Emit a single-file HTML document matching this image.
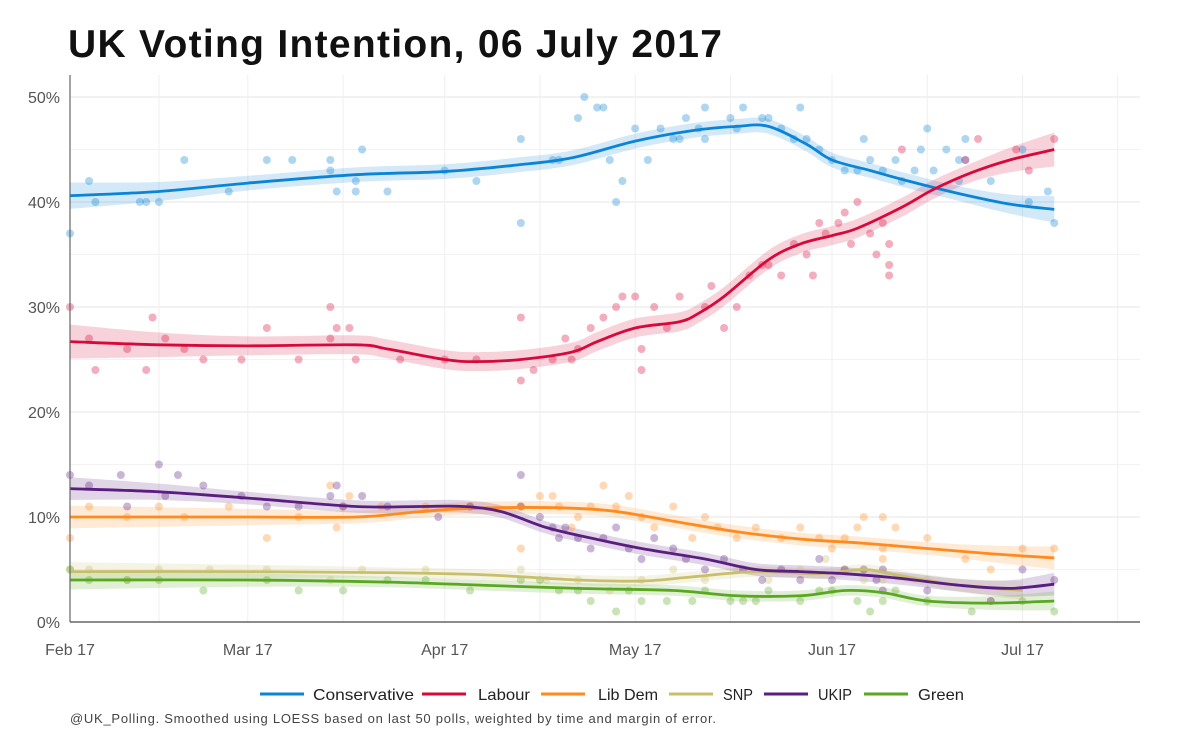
<!DOCTYPE html>
<html><head><meta charset="utf-8"><style>
body{margin:0;background:#fff;font-family:"Liberation Sans",sans-serif;}
svg{display:block}
</style></head><body>
<svg id="chart" width="1200" height="742">
<text x="68" y="57" font-size="39" font-weight="bold" fill="#111" textLength="654">UK Voting Intention, 06 July 2017</text>
<g id="grid"></g><g id="bands"></g><g id="points"></g><g id="lines"></g><g id="axes"></g><g id="legend"></g>
<text x="70" y="723" font-size="13" fill="#444" textLength="646">@UK_Polling. Smoothed using LOESS based on last 50 polls, weighted by time and margin of error.</text>
</svg>
<script>
const parties=["Conservative","Labour","Lib Dem","SNP","UKIP","Green"];
const colors=["#0a84d6","#d8083a","#ff8a1e","#c8bf6c","#5b1e80","#5aa820"];
const monthLabels=["Feb 17","Mar 17","Apr 17","May 17","Jun 17","Jul 17"];
const monthDays=[0,28,59,89,120,150];
const yTicks=[0,10,20,30,40,50];
const conLine=[[0,40.6],[14,41],[28,41.8],[45,42.6],[59,42.9],[70,43.5],[79,44.2],[89,45.8],[98,46.8],[105,47.2],[110,47.2],[116,45.5],[120,44],[126,43],[132,42],[140,40.8],[148,39.8],[155,39.3]];
const labLine=[[0,26.7],[14,26.4],[28,26.3],[45,26.4],[50,26],[59,25],[64,24.8],[71,25],[79,25.7],[83,26.7],[89,28],[96,28.6],[99,29.4],[103,31],[110,34.5],[115,36],[120,36.8],[124,37.5],[131,39.5],[136,41.2],[142,42.8],[148,44],[155,45]];
const ldLine=[[0,10],[28,10],[45,10],[55,10.5],[62,10.8],[75,10.9],[85,10.6],[95,9.6],[105,8.6],[115,7.9],[125,7.5],[135,7],[145,6.5],[155,6.1]];
const snpLine=[[0,4.8],[28,4.8],[50,4.7],[65,4.5],[80,4],[90,3.9],[98,4.3],[108,4.8],[118,4.6],[125,5],[130,4.5],[140,3.5],[150,3]];
const ukipLine=[[0,12.7],[14,12.4],[28,11.8],[45,11],[55,11],[62,11],[68,10.5],[75,9],[82,8],[90,7],[100,6],[108,5],[115,4.8],[122,4.6],[130,4.2],[140,3.5],[148,3.2],[155,3.6]];
const grnLine=[[0,4],[28,4],[50,3.8],[65,3.5],[80,3.2],[95,3],[105,2.5],[115,2.5],[122,3],[128,2.8],[135,2],[145,1.8],[155,2]];
const bandHalf=[0.7,0.9,0.6,0.5,0.6,0.5];
const conPts=[[0,37],[3,42],[4,40],[11,40],[12,40],[14,40],[18,44],[25,41],[31,44],[35,44],[41,44],[41,43],[42,41],[45,41],[45,42],[46,45],[50,41],[59,43],[64,42],[71,46],[71,38],[76,44],[77,44],[80,48],[81,50],[83,49],[84,49],[85,44],[86,40],[87,42],[89,47],[91,44],[93,47],[95,46],[96,46],[97,48],[99,47],[100,46],[100,49],[104,48],[105,47],[106,49],[109,48],[110,48],[112,47],[114,46],[115,49],[116,46],[118,45],[120,44],[122,43],[124,43],[125,46],[126,44],[128,43],[130,44],[131,42],[133,43],[134,45],[135,47],[136,43],[138,45],[140,42],[140,44],[141,44],[141,46],[145,42],[150,45],[151,40],[154,41],[155,38]];
const labPts=[[0,30],[3,27],[4,24],[9,26],[12,24],[13,29],[15,27],[18,26],[21,25],[27,25],[31,28],[36,25],[41,27],[41,30],[42,28],[44,28],[45,25],[52,25],[59,25],[64,25],[71,29],[71,23],[73,24],[76,25],[78,27],[79,25],[80,26],[82,28],[84,29],[86,30],[87,31],[89,31],[90,26],[90,24],[92,30],[94,28],[96,31],[100,30],[101,32],[103,28],[105,30],[107,33],[109,34],[110,34],[112,33],[114,36],[116,35],[117,33],[118,38],[119,37],[121,38],[122,39],[123,36],[124,40],[126,37],[127,35],[128,38],[129,36],[129,34],[129,33],[131,45],[141,44],[143,46],[149,45],[151,43],[155,46]];
const ldPts=[[0,8],[3,11],[9,10],[14,11],[18,10],[25,11],[31,8],[36,10],[41,13],[42,9],[43,11],[44,12],[49,11],[56,11],[63,11],[71,7],[71,11],[74,12],[76,12],[77,11],[79,9],[80,10],[82,11],[84,13],[86,11],[88,12],[90,10],[92,9],[95,11],[98,8],[100,10],[102,9],[105,8],[108,9],[112,8],[115,9],[118,8],[120,7],[122,8],[124,9],[125,10],[128,10],[128,7],[128,6],[130,9],[135,8],[141,6],[145,5],[150,7],[155,7]];
const snpPts=[[0,5],[3,5],[9,4],[14,5],[22,5],[31,5],[41,4],[46,5],[56,5],[71,5],[75,4],[80,4],[85,3],[90,4],[95,5],[100,4],[105,5],[110,4],[115,5],[119,6],[122,5],[125,4],[128,4],[135,4],[145,2]];
const ukipPts=[[0,14],[3,13],[8,14],[9,11],[14,15],[15,12],[17,14],[21,13],[27,12],[31,11],[36,11],[41,12],[42,13],[43,11],[46,12],[50,11],[58,10],[63,11],[71,14],[71,11],[74,10],[76,9],[77,8],[78,9],[80,8],[82,7],[84,8],[86,9],[88,7],[90,6],[92,8],[95,7],[97,6],[100,5],[103,6],[106,5],[109,4],[112,5],[115,4],[118,6],[120,4],[122,5],[125,5],[127,4],[128,3],[128,5],[135,3],[145,2],[150,5],[155,4]];
const grnPts=[[0,5],[3,4],[9,4],[14,4],[21,3],[31,4],[36,3],[43,3],[50,4],[56,4],[63,3],[71,4],[74,4],[77,3],[80,3],[82,2],[86,1],[88,3],[90,2],[94,2],[98,2],[100,3],[104,2],[106,2],[108,2],[110,3],[115,2],[118,3],[120,3],[124,2],[126,1],[128,2],[130,3],[135,2],[142,1],[150,2],[155,1]];

const lines=[conLine,labLine,ldLine,snpLine,ukipLine,grnLine];
const pts=[conPts,labPts,ldPts,snpPts,ukipPts,grnPts];
const X0=70,X1=1140,Y0=622,PXD=6.35,PXP=10.5;
const xs=d=>X0+d*PXD, ys=v=>Y0-v*PXP;
const NS="http://www.w3.org/2000/svg";
function mk(tag,attrs,parent){const e=document.createElementNS(NS,tag);for(const k in attrs)e.setAttribute(k,attrs[k]);parent.appendChild(e);return e;}
function smooth(p){let d=`M${p[0][0]},${p[0][1]}`;for(let i=0;i<p.length-1;i++){const a=p[i-1]||p[i],b=p[i],c=p[i+1],e=p[i+2]||c;
d+=` C${b[0]+(c[0]-a[0])/6},${b[1]+(c[1]-a[1])/6} ${c[0]-(e[0]-b[0])/6},${c[1]-(e[1]-b[1])/6} ${c[0]},${c[1]}`;}return d;}
const grid=document.getElementById('grid');
for(let v=5;v<=50;v+=5){const l=mk('line',{x1:X0,x2:X1,y1:ys(v),y2:ys(v),stroke:v%10?'#f2f2f2':'#e6e6e6','stroke-width':1},grid);
}
const vdays=[14,28,43,59,74,89,104,120,135,150,165];
vdays.forEach(d=>{const l=mk('line',{x1:xs(d),x2:xs(d),y1:75,y2:Y0,stroke:'#efefef','stroke-width':1},grid);
});
const bands=document.getElementById('bands'),pg=document.getElementById('points'),lg=document.getElementById('lines');
lines.forEach((ln,i)=>{
 const n=ln.length;
 const hw=(j)=>bandHalf[i]*( (j===0||j===n-1)?1.8:(j===1||j===n-2)?1.3:1);
 const up=ln.map((p,j)=>[xs(p[0]),ys(p[1]+hw(j))]);
 const dn=ln.map((p,j)=>[xs(p[0]),ys(p[1]-hw(j))]).reverse();
 const b=mk('path',{d:smooth(up)+' L'+smooth(dn).slice(1)+' Z',fill:colors[i],'fill-opacity':0.18},bands);
 
 pts[i].forEach(p=>{const c=mk('circle',{cx:xs(p[0]),cy:ys(p[1]),r:4,fill:colors[i],'fill-opacity':0.33},pg);
 });
 const l=mk('path',{d:smooth(ln.map(p=>[xs(p[0]),ys(p[1])])),fill:'none',stroke:colors[i],'stroke-width':2.8},lg);
 
});
const ax=document.getElementById('axes');
let a=mk('line',{x1:X0,x2:X0,y1:75,y2:Y0,stroke:'#666','stroke-width':1.2},ax);
a=mk('line',{x1:X0,x2:X1,y1:Y0,y2:Y0,stroke:'#666','stroke-width':1.5},ax);
yTicks.forEach(v=>{const t=mk('text',{x:X0-10,y:ys(v)+6,'text-anchor':'end','font-size':16,fill:'#555'},ax);t.textContent=v+'%';
});
monthLabels.forEach((m,i)=>{const t=mk('text',{x:xs(monthDays[i]),y:655,'text-anchor':'middle','font-size':16,fill:'#555'},ax);t.textContent=m;
});
const leg=document.getElementById('legend');
const legX=[260,422,541,669,764,864],legTx=[313,478,598,723,818,918],legTw=[101,52,60,30,34,46];
parties.forEach((p,i)=>{const g=mk('g',{},leg);

mk('line',{x1:legX[i],x2:legX[i]+44,y1:694,y2:694,stroke:colors[i],'stroke-width':3},g);
const t=mk('text',{x:legTx[i],y:700,'font-size':16,fill:'#222',textLength:legTw[i],lengthAdjust:'spacingAndGlyphs'},g);t.textContent=p;});
</script>
</body></html>
